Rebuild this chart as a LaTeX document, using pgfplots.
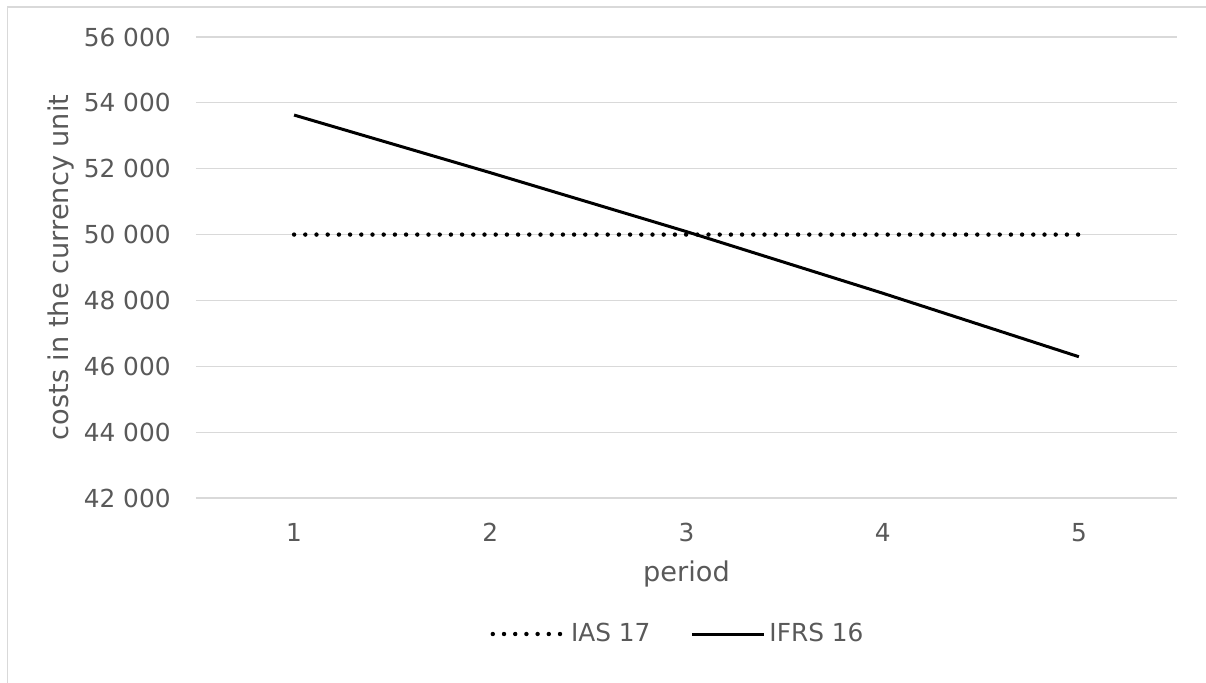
\documentclass[border=0pt]{standalone}
\usepackage{fontspec}
\setmainfont{DejaVu Sans}
\usepackage{pgfplots}
\pgfplotsset{compat=1.18}
\definecolor{gridgray}{HTML}{D9D9D9}
\definecolor{txtgray}{HTML}{595959}
\begin{document}
\begin{tikzpicture}
\useasboundingbox (0,0) rectangle (603pt,-341pt);
\draw[gridgray, line width=0.75pt] (3.75pt,-345pt) -- (3.75pt,-3.5pt) -- (607pt,-3.5pt);
\begin{axis}[
  at={(98pt,-249pt)}, anchor=south west,
  scale only axis, width=490.5pt, height=230.5pt,
  xmin=0.5, xmax=5.5, ymin=42000, ymax=56000,
  scaled y ticks=false, scaled x ticks=false,
  xtick={1,2,3,4,5}, xticklabels={1,2,3,4,5},
  ytick={42000,44000,46000,48000,50000,52000,54000,56000},
  yticklabels={42 000,44 000,46 000,48 000,50 000,52 000,54 000,56 000},
  axis line style={draw=none},
  major tick length=0pt,
  ymajorgrids, grid style={gridgray, line width=0.6pt},
  tick label style={font=\fontsize{12.4}{14}\selectfont, text=txtgray},
  yticklabel style={anchor=east, inner sep=0pt, xshift=-12.5pt},
  xticklabel style={anchor=north, inner sep=0pt, yshift=-12.5pt},
  xlabel={period}, ylabel={costs in the currency unit},
  label style={font=\fontsize{13.6}{15}\selectfont, text=txtgray},
  xlabel style={at={(axis description cs:0.5,-0.1345)}, anchor=north, inner sep=0pt},
  ylabel style={at={(axis description cs:-0.1519,0.5)}, anchor=north, inner sep=0pt, rotate=0},
  legend columns=2,
  legend style={at={(axis description cs:0.4924,-0.295)}, anchor=center, draw=none, fill=none,
    font=\fontsize{12.4}{14}\selectfont, text=txtgray,
    /tikz/every even column/.append style={column sep=18pt}},
  legend image code/.code={\draw[#1] (0pt,0pt) -- (36pt,0pt);},
  clip=false,
]
\addplot[black, line width=2.2pt, line cap=round, dash pattern=on 0pt off 5.6pt] coordinates {(1,50000) (2,50000) (3,50000) (4,50000) (5,50000)};
\addlegendentry{IAS 17}
\addplot[black, line width=1.5pt] coordinates {(1,53630) (2,51880) (3,50090) (4,48220) (5,46290)};
\addlegendentry{IFRS 16}
\end{axis}
\end{tikzpicture}
\end{document}
